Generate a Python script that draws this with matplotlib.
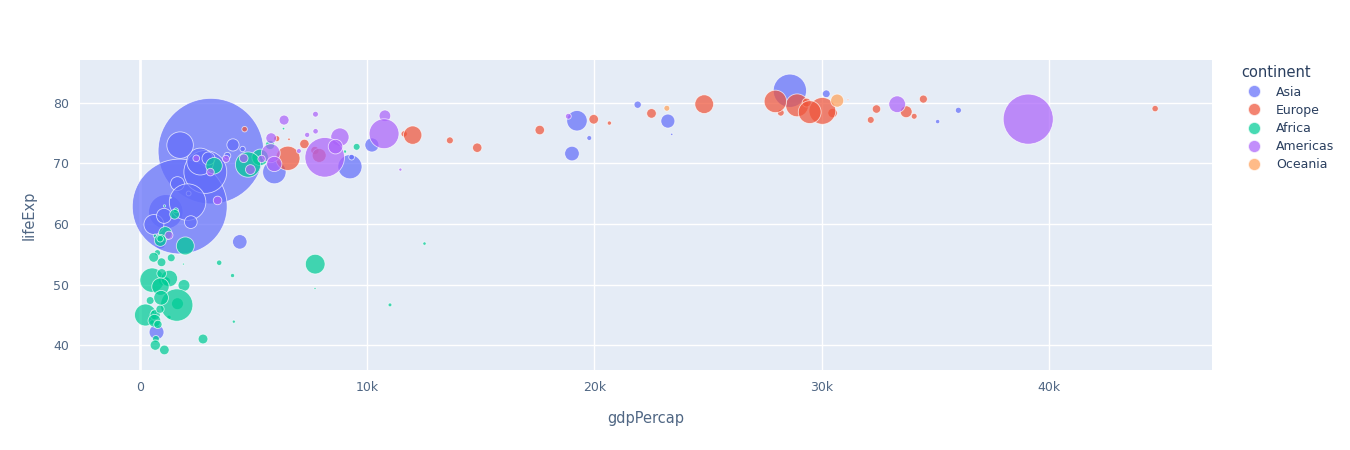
import matplotlib
matplotlib.use("Agg")
import matplotlib.pyplot as plt
import numpy as np

continents = ["Asia", "Europe", "Africa", "Americas", "Oceania"]
colors = ["#636efa", "#EF553B", "#00cc96", "#ab63fa", "#FFA15A"]

# (lifeExp, pop, gdpPercap) per continent, gapminder 2002
asia_life = [42.129,74.795,62.013,56.752,72.028,81.495,62.879,68.588,69.451,57.046,79.696,82.0,71.263,66.662,77.045,76.904,71.028,73.044,65.033,59.908,61.34,74.193,63.61,70.303,71.626,78.77,70.815,73.053,76.99,68.564,73.017,72.37,60.308]
asia_pop = [25268405,656397,135656790,12926707,1280400000,6762476,1034172547,211060000,66907826,24001816,6029529,127065841,5307470,22215365,47969150,2111561,3677780,22662365,2674234,45598081,25873917,2713462,153403524,82995088,24501530,4197776,19576783,17155814,22454239,62806748,80908147,3389578,18701257]
asia_gdp = [726.7,23404,1136,896,3119,30209,1747,2874,9240,4391,21906,28605,3845,1647,19234,35110,9313,10207,2140,611,1057,19775,2093,2651,19014,36023,3015,4091,23235,5913,1764,4516,2235]

europe_life = [75.651,78.98,78.32,74.09,72.14,74.876,75.51,77.18,78.37,79.59,78.67,78.256,72.59,80.5,77.783,80.24,73.981,78.53,79.05,74.67,77.29,71.322,73.213,73.8,76.66,79.78,80.04,80.62,70.845,78.471]
europe_pop = [3508512,8148312,10311970,4165416,7661799,4481020,10256295,5374693,5193039,59925035,82350671,10603863,10083313,288030,3879155,57926999,720230,16122830,4535591,38625976,10433867,22404337,10111559,5410052,2011497,40152517,8954175,7361757,67308928,59912431]
europe_gdp = [4604,32418,30486,6018,7697,11628,17596,32166,28205,28926,30036,22514,14843,31163,34077,27968,6557,33725,44684,12002,19971,7885,7236,13639,20660,24835,29342,34481,6508,29479]

africa_life = [70.994,41.003,54.406,46.634,50.65,47.36,49.856,43.308,50.525,62.974,44.966,53.596,46.832,53.373,69.806,49.348,55.24,50.725,56.761,58.041,58.453,53.676,45.504,50.992,44.593,43.753,72.737,57.286,45.009,51.818,62.247,71.954,69.615,44.026,51.479,54.496,46.608,75.744,43.413,64.337,61.6,41.012,45.936,53.365,56.369,43.869,49.651,57.561,73.042,47.813,39.193,39.989]
africa_pop = [31287142,10866106,7026113,1630347,12251209,7021078,15929988,4048013,8835739,614382,55379852,3328795,16252726,447416,73312559,495627,4414865,67946797,1299304,1457766,20550751,8807818,1332459,31386842,2046772,2814651,5368585,16473477,11824495,10580176,2828858,1200206,31167783,18473780,1972153,11140655,119901274,743981,7852401,170372,10870037,5359092,7753310,44433622,37090298,1130269,34593779,4977378,9770575,24739869,10595811,11926563]
africa_gdp = [5288,2773,1373,11003,1038,446,1934,738,1156,1076,241,3484,1649,1908,4755,7703,765,531,12522,660,1111,945,575,1288,1275,531,9535,894,665,952,1579,9021,3259,633,4072,601,1615,6316,786,1353,1520,699,882,7711,1993,4128,899,886,5723,928,1071,672]

americas_life = [74.34,63.883,71.006,79.77,77.86,71.682,78.123,77.158,70.847,74.173,70.734,68.978,58.137,68.565,72.047,74.902,70.836,74.712,70.755,69.906,77.778,68.976,77.31,75.307,72.766]
americas_pop = [38331121,8445134,179914212,31902268,15497046,41008227,3834934,11226999,8650322,12921234,6353681,11178650,7607651,6677328,2664659,102479927,5146848,2990875,5884491,26769436,3859606,1101832,287675526,3363085,24287670]
americas_gdp = [8798,3413,8131,33329,10779,5755,7723,6341,4564,5773,5351,4858,1270,3099,6994,10742,2475,7357,3784,5909,18855,11461,39097,7727,8605]

oceania_life = [80.37,79.11]
oceania_pop = [19546792,3908037]
oceania_gdp = [30688,23190]

data = [(asia_gdp, asia_life, asia_pop), (europe_gdp, europe_life, europe_pop),
        (africa_gdp, africa_life, africa_pop), (americas_gdp, americas_life, americas_pop),
        (oceania_gdp, oceania_life, oceania_pop)]
maxpop = max(max(d[2]) for d in data)

fig = plt.figure(figsize=(13.5, 4.5), dpi=100)
ax = fig.add_axes([0.0593, 0.178, 0.8387, 0.689])
ax.set_facecolor("#E5ECF6")
for s in ax.spines.values():
    s.set_visible(False)
ax.grid(True, color="white", linewidth=1)
ax.set_axisbelow(True)
ax.axvline(0, color="white", linewidth=2, zorder=0.5)

for (g, l, p), name, c in zip(data, continents, colors):
    d = 76 * np.sqrt(np.array(p) / maxpop)
    ax.scatter(g, l, s=d**2, color=c, alpha=0.72, edgecolors="white", linewidths=0.6, label=name)

ax.set_xlim(-2640, 47200)
ax.set_ylim(35.9, 87.1)
ax.set_xticks([0, 10000, 20000, 30000, 40000])
ax.set_xticklabels(["0", "10k", "20k", "30k", "40k"])
ax.set_yticks([40, 50, 60, 70, 80])
ax.tick_params(length=0, labelsize=9, colors="#506784", pad=8)
ax.set_xlabel("gdpPercap", fontsize=10.5, color="#506784", labelpad=12)
ax.set_ylabel("lifeExp", fontsize=10.5, color="#506784", labelpad=12)

handles = [plt.Line2D([], [], marker="o", linestyle="", markersize=9, markerfacecolor=c,
                      markeredgecolor="white", alpha=0.72) for c in colors]
leg = fig.legend(handles, continents, loc="upper left", bbox_to_anchor=(0.911, 0.88),
                 frameon=False, fontsize=9, title="continent", title_fontsize=10.5,
                 labelcolor="#2a3f5f", handletextpad=0.8, labelspacing=0.42, alignment="left")
leg.get_title().set_color("#2a3f5f")

fig.savefig("out.png", dpi=100)
